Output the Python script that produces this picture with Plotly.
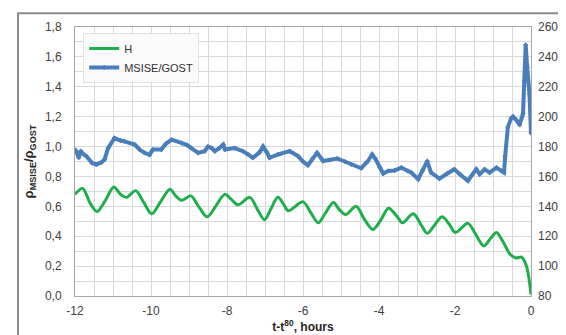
import plotly.graph_objects as go

# H (km, right axis)
h_t = [-12.0, -11.8, -11.6, -11.42, -11.2, -10.98, -10.8, -10.65, -10.4, -10.2,
       -9.98, -9.75, -9.5, -9.35, -9.2, -8.95, -8.75, -8.52, -8.3, -8.06,
       -7.9, -7.71, -7.4, -7.2, -7.01, -6.85, -6.66, -6.5, -6.39, -6.0,
       -5.8, -5.6, -5.4, -5.2, -5.05, -4.88, -4.6, -4.4, -4.16, -3.95,
       -3.75, -3.55, -3.38, -3.1, -2.9, -2.73, -2.55, -2.34, -2.15, -1.99,
       -1.66, -1.45, -1.24, -1.05, -0.91, -0.75, -0.55, -0.4, -0.25, -0.12, 0.0]
h_km = [148, 152, 142, 136.5, 144, 153, 148, 146, 150.5, 143,
        135, 143, 151.5, 147, 144, 147, 140, 133, 140, 148,
        145, 141, 146, 138, 131, 138, 146, 141, 137, 143,
        136, 129, 136, 142.5, 138, 134.5, 140, 132, 124.5, 131,
        138.7, 134, 129, 135, 128, 122, 127, 133, 128, 122.5,
        128.6, 121, 113.5, 119, 122.5, 117, 108, 105.5, 106, 100, 81]

# MSISE/GOST density ratio (left axis)
r_t = [-12.0, -11.95, -11.9, -11.85, -11.78, -11.7, -11.55, -11.44, -11.3, -11.22,
       -11.13, -10.96, -10.8, -10.7, -10.43, -10.3, -10.17, -10.04, -9.95, -9.73,
       -9.6, -9.46, -9.2, -9.05, -8.94, -8.76, -8.59, -8.5, -8.4, -8.32,
       -8.2, -8.1, -8.05, -7.8, -7.58, -7.45, -7.32, -7.15, -7.05, -6.95,
       -6.88, -6.66, -6.35, -6.13, -6.0, -5.87, -5.75, -5.63, -5.47, -5.3,
       -5.1, -4.9, -4.73, -4.47, -4.3, -4.18, -4.1, -3.98, -3.89, -3.76,
       -3.59, -3.41, -3.24, -3.15, -2.97, -2.85, -2.73, -2.63, -2.41, -2.2,
       -2.02, -1.85, -1.66, -1.55, -1.44, -1.35, -1.22, -1.09, -0.91, -0.78,
       -0.71, -0.68, -0.61, -0.52, -0.47, -0.39, -0.3, -0.21, -0.17, -0.14,
       -0.1, -0.04, 0.0]
r_val = [0.98, 0.96, 0.925, 0.97, 0.95, 0.935, 0.89, 0.88, 0.895, 0.914,
         0.99, 1.057, 1.04, 1.035, 1.013, 0.98, 0.958, 0.945, 0.98, 0.98,
         1.02, 1.046, 1.024, 1.01, 0.99, 0.958, 0.969, 1.0, 0.99, 0.969,
         0.99, 1.013, 0.98, 0.99, 0.969, 0.95, 0.925, 0.96, 1.0, 0.96,
         0.925, 0.947, 0.969, 0.936, 0.9, 0.875, 0.92, 0.958, 0.903, 0.91,
         0.92, 0.9, 0.88, 0.855, 0.9, 0.947, 0.92, 0.86, 0.82, 0.837,
         0.84, 0.859, 0.835, 0.826, 0.782, 0.84, 0.903, 0.826, 0.785, 0.82,
         0.848, 0.81, 0.771, 0.81, 0.848, 0.815, 0.848, 0.826, 0.859, 0.837,
         0.826, 0.936, 1.13, 1.19, 1.2, 1.178, 1.145, 1.22, 1.44, 1.68,
         1.53, 1.35, 1.09]

x_ticks = [-12, -10, -8, -6, -4, -2, 0]
y_left_ticks = [0.0, 0.2, 0.4, 0.6, 0.8, 1.0, 1.2, 1.4, 1.6, 1.8]
y_left_text = ["0,0", "0,2", "0,4", "0,6", "0,8", "1,0", "1,2", "1,4", "1,6", "1,8"]
y_right_ticks = [80, 100, 120, 140, 160, 180, 200, 220, 240, 260]

GREEN = "#1fae4b"
BLUE = "#4a7ebb"
GRID = "#d9d9d9"
TXT = "#404040"
FONT = "Liberation Sans, Arial, sans-serif"

fig = go.Figure()
fig.add_trace(go.Scatter(x=h_t, y=h_km, name="H", yaxis="y2", mode="lines",
                         line=dict(color=GREEN, width=3, shape="spline", smoothing=0.9)))
fig.add_trace(go.Scatter(x=r_t, y=r_val, name="MSISE/GOST", yaxis="y", mode="lines+markers",
                         line=dict(color=BLUE, width=4),
                         marker=dict(color=BLUE, size=4, symbol="diamond")))

fig.update_layout(
    width=566, height=335,
    margin=dict(l=67, r=43, t=19, b=43),
    paper_bgcolor="white", plot_bgcolor="white",
    font=dict(family=FONT, size=12, color=TXT),
    showlegend=True,
    legend=dict(x=0.018, y=0.978, xanchor="left", yanchor="top",
                bgcolor="rgba(250,250,250,0.97)", bordercolor="#e3e3e3", borderwidth=1,
                font=dict(size=11, color="#303030", family=FONT),
                itemwidth=30, tracegroupgap=0),
    xaxis=dict(range=[-12, 0], tickvals=x_ticks, ticktext=[str(v) for v in x_ticks],
               showgrid=True, gridcolor=GRID, gridwidth=1,
               minor=dict(dtick=0.5, showgrid=True, gridcolor=GRID, gridwidth=1),
               showline=True, linecolor="#a6a6a6", linewidth=1, mirror=True,
               zeroline=False, ticks="", ticklabelstandoff=4,
               title=dict(text="<b>t-t<sup>80</sup>, hours</b>", standoff=4,
                          font=dict(size=12, color="#262626"))),
    yaxis=dict(range=[0, 1.8], tickvals=y_left_ticks, ticktext=y_left_text,
               showgrid=True, gridcolor=GRID, gridwidth=1,
               minor=dict(dtick=0.1, showgrid=True, gridcolor=GRID, gridwidth=1),
               showline=True, linecolor="#a6a6a6", linewidth=1, mirror=True,
               zeroline=False, ticks="", ticklabelstandoff=10,
               title=dict(text="<b>ρ<sub>MSISE</sub>/ρ<sub>GOST</sub></b>", standoff=8,
                          font=dict(size=13, color="#262626"))),
    yaxis2=dict(range=[80, 260], tickvals=y_right_ticks,
                overlaying="y", side="right", showgrid=False, zeroline=False,
                ticks="", ticklabelstandoff=6),
)

fig.add_annotation(text="<b>H, km</b>", xref="paper", yref="paper",
                   x=1.0 + (569 - 523) / 456, y=0.5, textangle=90,
                   showarrow=False, font=dict(size=12, color="#262626"))

fig.add_shape(type="rect", xref="paper", yref="paper",
              x0=(10 - 67) / 456, x1=(575 - 67) / 456,
              y0=(292 - 345) / 273, y1=1 + (19 - 5) / 273,
              line=dict(color="#8c8c8c", width=2), layer="below")

fig.write_html("out.html")
